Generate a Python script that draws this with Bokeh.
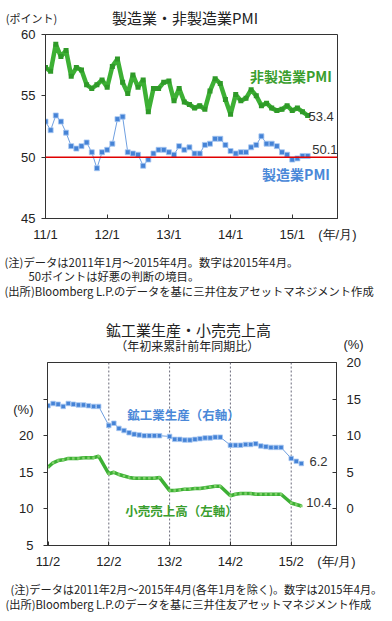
from bokeh.plotting import figure
from bokeh.models import ColumnDataSource, Range1d, LinearAxis, Span, Label, FixedTicker
from bokeh.layouts import column
from bokeh.embed import file_html
from bokeh.resources import INLINE

JP = "Noto Sans CJK JP"
NUM = "Liberation Sans"

# ---------------- Top chart data: monthly, 2011/1 - 2015/4 ----------------
mfg_pmi = [
    52.9, 52.2, 53.4, 52.9, 52.0, 50.9, 50.7, 50.9, 51.2, 50.4, 49.1, 50.4,
    50.6, 51.1, 53.1, 53.3, 50.4, 50.3, 50.2, 49.3, 49.8, 50.3, 50.6, 50.6,
    50.4, 50.2, 50.9, 50.6, 50.8, 50.3, 50.3, 51.0, 51.1, 51.5, 51.5, 51.0,
    50.5, 50.3, 50.4, 50.4, 50.8, 51.0, 51.7, 51.1, 51.1, 50.9, 50.4, 50.2,
    49.8, 49.9, 50.1, 50.1,
]
nonmfg_pmi = [
    57.3, 57.0, 59.2, 58.2, 58.7, 56.6, 57.3, 57.1, 55.9, 55.6, 55.9, 56.3,
    55.7, 57.4, 58.0, 56.1, 55.2, 56.7, 55.7, 56.3, 53.7, 55.6, 55.6, 56.1,
    56.2, 54.6, 55.6, 54.5, 54.3, 54.0, 54.2, 53.9, 55.4, 56.4, 56.0, 54.7,
    53.5, 55.1, 54.6, 54.8, 55.5, 55.0, 54.2, 54.4, 54.0, 53.8, 53.9, 54.2,
    53.8, 54.0, 53.7, 53.4,
]
top_tick_pos = [0, 12, 24, 36, 48]
top_tick_labels = ["11/1", "12/1", "13/1", "14/1", "15/1"]

# ---------------- Bottom chart data: YTD y/y, 2011/2 - 2015/4 (excl. Jan) ----------------
bottom_months = [(y, m) for y in range(2011, 2016) for m in range(2, 13) if (y, m) <= (2015, 4)]
ip_ytd = [
    14.1, 14.4, 14.3, 14.0, 14.4, 14.3, 14.2, 14.2, 14.1, 14.0, 14.0,
    11.4, 11.7, 11.0, 10.7, 10.4, 10.2, 10.1, 10.0, 10.0, 10.0, 10.0,
    9.9, 9.5, 9.5, 9.4, 9.4, 9.5, 9.6, 9.7, 9.7, 9.8, 9.8,
    8.7, 8.7, 8.7, 8.8, 8.8, 8.9, 8.6, 8.5, 8.4, 8.4, 8.4,
    6.9, 6.5, 6.2,
]
retail_ytd = [
    15.7, 16.3, 16.6, 16.7, 16.9, 16.9, 16.9, 17.0, 17.0, 17.0, 17.2,
    14.8, 15.0, 14.7, 14.5, 14.3, 14.2, 14.2, 14.2, 14.2, 14.2, 14.3,
    12.5, 12.5, 12.6, 12.7, 12.7, 12.8, 12.8, 12.9, 13.0, 13.1, 13.1,
    11.8, 12.0, 12.1, 12.1, 12.1, 12.0, 12.0, 12.0, 12.0, 12.0, 12.0,
    10.8, 10.6, 10.4,
]
bottom_tick_pos = [0, 12, 24, 36, 48]
bottom_tick_labels = ["11/2", "12/2", "13/2", "14/2", "15/2"]

GREEN_LINE = "#3db034"
GREEN_MARK = "#2f9a28"
GREEN_TEXT = "#3a9e2e"
BLUE_LINE = "#6f9fe0"
BLUE_MARK = "#4583d6"
BLUE_EDGE = "#a8c8f2"
BLUE_TEXT = "#4a88d8"
DARK = "#222222"
W = 392


def style_common(p):
    p.xgrid.visible = False
    p.ygrid.visible = False
    p.outline_line_color = "#333333"
    p.outline_line_width = 1
    for ax in p.axis:
        ax.axis_line_color = "#333333"
        ax.major_tick_line_color = "#333333"
        ax.minor_tick_line_color = None
        ax.major_label_text_font = NUM
        ax.major_label_text_font_size = "13px"
        ax.major_label_text_color = DARK


def lab(p, x, y, text, size="12px", color=DARK, align="left", font=JP, bold=False, y_range_name="default"):
    p.add_layout(Label(x=x, y=y, text=text, text_font=font, text_font_size=size,
                       text_color=color, text_align=align, text_baseline="middle",
                       text_font_style="bold" if bold else "normal",
                       y_range_name=y_range_name))


def text_fig(h):
    f = figure(width=W, height=h, x_range=Range1d(0, W), y_range=Range1d(h, 0),
               output_backend="svg", toolbar_location=None, frame_align=False,
               x_axis_location=None, y_axis_location=None,
               min_border_left=0, min_border_right=0, min_border_top=0, min_border_bottom=0)
    f.outline_line_color = None
    f.grid.visible = False
    return f


# ================= Header 1 =================
hdr1 = text_fig(28)
lab(hdr1, 184.5, 17, "製造業・非製造業PMI", size="15px", align="center")
lab(hdr1, 31, 17, "(ポイント)", size="11px", align="center")

# ================= Figure 1 =================
p1 = figure(width=W, height=217, x_range=Range1d(0, 56.8), y_range=Range1d(45, 60),
            output_backend="svg", toolbar_location=None, frame_align=False,
            min_border_left=45, min_border_right=55, min_border_top=6, min_border_bottom=27)
style_common(p1)

top_x = list(range(len(mfg_pmi)))
src1 = ColumnDataSource(dict(x=top_x, mfg=mfg_pmi, non=nonmfg_pmi))

p1.add_layout(Span(location=50, dimension="width", line_color="#e00000", line_width=1.5))

p1.line("x", "non", source=src1, line_color=GREEN_LINE, line_width=4.5)
p1.scatter("x", "non", source=src1, marker="square", size=5, fill_color=GREEN_MARK, line_color=None)
p1.line("x", "mfg", source=src1, line_color=BLUE_LINE, line_width=1)
p1.scatter("x", "mfg", source=src1, marker="square", size=5, fill_color=BLUE_MARK,
           line_color=BLUE_EDGE, line_width=0.8)

p1_ticks = top_tick_pos + [56.78]
p1.xaxis.ticker = FixedTicker(ticks=p1_ticks)
p1.xaxis.major_label_overrides = {k: v for k, v in zip(p1_ticks, top_tick_labels + ["(年/月)"])}
p1.xaxis.major_tick_in = 4
p1.xaxis.major_tick_out = 0
p1.xaxis.major_label_standoff = 8
p1.yaxis.ticker = FixedTicker(ticks=[45, 50, 55, 60])
p1.yaxis.major_tick_in = 0
p1.yaxis.major_tick_out = 4
p1.yaxis.major_label_standoff = 6

lab(p1, 47.75, 56.58, "非製造業PMI", size="14px", color=GREEN_TEXT, align="center", bold=True)
lab(p1, 48.73, 48.59, "製造業PMI", size="14px", color=BLUE_TEXT, align="center", bold=True)
lab(p1, 51.16, 53.32, "53.4", size="13px", font=NUM, color="#333333")
lab(p1, 51.88, 50.63, "50.1", size="13px", font=NUM, color="#333333")

# ================= Footer 1 =================
ftr1 = text_fig(57)
lab(ftr1, 4, 16, "(注)データは2011年1月～2015年4月。数字は2015年4月。", size="11.3px")
lab(ftr1, 28, 30, "50ポイントは好悪の判断の境目。", size="11.3px")
lab(ftr1, 4, 45, "(出所)Bloomberg L.P.のデータを基に三井住友アセットマネジメント作成", size="11.3px")

# ================= Header 2 =================
hdr2 = text_fig(52)
lab(hdr2, 188, 27, "鉱工業生産・小売売上高", size="15px", align="center")
lab(hdr2, 186.7, 43, "（年初来累計前年同期比）", size="12px", align="center")
lab(hdr2, 353, 42, "(%)", size="13px", font=NUM, align="center")

# ================= Figure 2 =================
p2 = figure(width=W, height=221, x_range=Range1d(-0.1, 56.94), y_range=Range1d(5, 30),
            output_backend="svg", toolbar_location=None, frame_align=False,
            min_border_left=47, min_border_right=56, min_border_top=8, min_border_bottom=30)
p2.extra_y_ranges = {"right": Range1d(-5, 20)}
p2.add_layout(LinearAxis(y_range_name="right", ticker=FixedTicker(ticks=[0, 5, 10, 15, 20])), "right")
style_common(p2)

bx = [(y - 2011) * 12 + (m - 2) for (y, m) in bottom_months]
src2 = ColumnDataSource(dict(x=bx, ip=ip_ytd, rt=retail_ytd))

for xpos in bottom_tick_pos[1:]:
    p2.add_layout(Span(location=xpos, dimension="height", line_color="#6a6a7a",
                       line_width=1, line_dash="2 2", level="underlay"))

p2.line("x", "rt", source=src2, line_color=GREEN_LINE, line_width=3.5)
p2.scatter("x", "rt", source=src2, marker="square", size=2.5, fill_color="#7fd06a", line_color=None)
p2.line("x", "ip", source=src2, line_color=BLUE_LINE, line_width=1, y_range_name="right")
p2.scatter("x", "ip", source=src2, marker="square", size=4.5, fill_color=BLUE_MARK,
           line_color=BLUE_EDGE, line_width=0.8, y_range_name="right")

p2_ticks = bottom_tick_pos + [56.92]
p2.xaxis.ticker = FixedTicker(ticks=p2_ticks)
p2.xaxis.major_label_overrides = {k: v for k, v in zip(p2_ticks, bottom_tick_labels + ["(年/月)"])}
p2.xaxis.major_tick_in = 4
p2.xaxis.major_tick_out = 0
p2.xaxis.major_label_standoff = 8
left_ax = p2.yaxis[0]
right_ax = p2.yaxis[1]
left_ax.ticker = FixedTicker(ticks=[5, 10, 15, 20, 23.58], minor_ticks=[5, 10, 15, 20, 25])
left_ax.major_label_overrides = {23.58: "(%)"}
left_ax.major_tick_in = 0
left_ax.major_tick_out = 0
left_ax.minor_tick_in = 0
left_ax.minor_tick_out = 4
left_ax.minor_tick_line_color = "#333333"
left_ax.major_label_standoff = 10
right_ax.major_tick_in = 4
right_ax.major_tick_out = 0
right_ax.major_label_standoff = 10

lab(p2, 26.74, 22.90, "鉱工業生産（右軸）", size="12.5px", color=BLUE_TEXT, align="center", bold=True)
lab(p2, 26.35, 9.78, "小売売上高（左軸）", size="12.5px", color=GREEN_TEXT, align="center", bold=True)
lab(p2, 51.61, 16.48, "6.2", size="13px", font=NUM, color="#333333")
lab(p2, 50.96, 10.87, "10.4", size="13px", font=NUM, color="#333333")

# ================= Footer 2 =================
ftr2 = text_fig(45)
lab(ftr2, 10, 13, "(注)データは2011年2月～2015年4月(各年1月を除く)。数字は2015年4月。", size="11.2px")
lab(ftr2, 5, 28, "(出所)Bloomberg L.P.のデータを基に三井住友アセットマネジメント作成", size="11.2px")

layout = column(hdr1, p1, ftr1, hdr2, p2, ftr2, spacing=0)
open("out.html", "w").write(file_html(layout, INLINE))
